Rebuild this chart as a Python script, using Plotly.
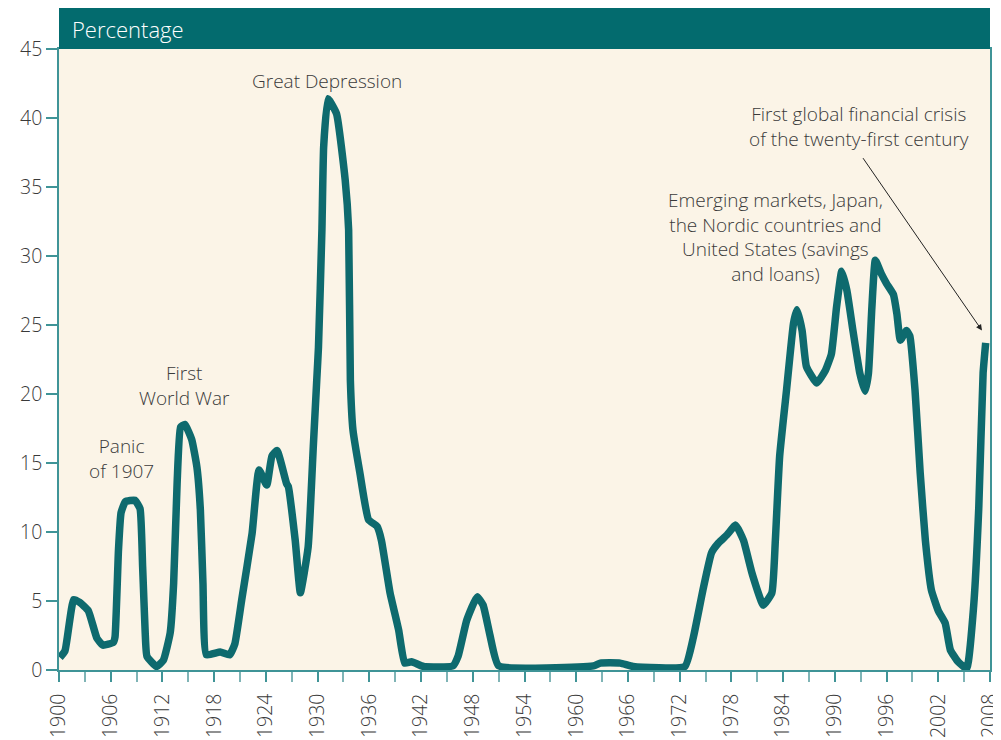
import plotly.graph_objects as go

# (year, percentage)
years = [1900.1, 1900.7, 1901.7, 1902.4, 1903.4, 1904.4, 1905.1, 1906.3, 1906.5, 1906.9,
         1907.2, 1907.7, 1908.8, 1909.4, 1909.7, 1910.0, 1910.2, 1911.3, 1912.1, 1912.9,
         1913.3, 1913.7, 1914.1, 1914.6, 1915.4, 1916.0, 1916.4, 1916.7, 1917.1, 1918.7,
         1919.8, 1920.4, 1921.2, 1922.4, 1923.2, 1924.1, 1924.7, 1925.3, 1926.4, 1926.6,
         1927.4, 1928.0, 1928.9, 1929.5, 1929.9, 1930.1, 1930.5, 1930.7, 1931.2, 1932.2,
         1933.2, 1933.6, 1933.8, 1934.1, 1934.9, 1935.9, 1936.9, 1937.4, 1938.4, 1939.4,
         1940.1, 1940.9, 1942.3, 1945.7, 1946.3, 1947.3, 1948.5, 1949.2, 1950.0, 1951.0,
         1962.0, 1962.8, 1965.1, 1966.6, 1972.6, 1973.6, 1974.7, 1975.7, 1976.5, 1977.5,
         1978.5, 1979.4, 1980.4, 1981.7, 1982.7, 1983.1, 1983.6, 1984.4, 1985.2, 1985.6,
         1986.2, 1986.7, 1987.9, 1988.9, 1989.6, 1990.2, 1990.8, 1991.4, 1992.1, 1992.9,
         1993.5, 1993.9, 1994.3, 1994.7, 1995.4, 1996.0, 1996.8, 1997.2, 1997.6, 1998.3,
         1998.7, 1999.3, 1999.9, 2000.5, 2001.2, 2002.0, 2002.8, 2003.4, 2004.3, 2005.3,
         2006.1, 2006.7, 2007.2, 2007.5]
pct = [0.9, 1.4, 5.1, 4.9, 4.3, 2.3, 1.8, 2.0, 2.4, 8.7,
       11.4, 12.2, 12.3, 11.7, 7.5, 2.7, 1.0, 0.25, 0.7, 2.7,
       6.3, 13.5, 17.6, 17.8, 16.7, 14.7, 11.6, 6.3, 1.1, 1.3,
       1.1, 1.9, 5.1, 9.9, 14.5, 13.4, 15.5, 15.9, 13.5, 13.3,
       9.4, 5.6, 8.9, 16.2, 21.0, 23.4, 31.9, 37.9, 41.4, 40.3,
       35.5, 31.9, 21.0, 17.4, 14.3, 10.9, 10.4, 9.4, 5.6, 2.9,
       0.5, 0.6, 0.25, 0.3, 1.0, 3.6, 5.3, 4.7, 2.5, 0.3,
       0.3, 0.5, 0.5, 0.25, 0.25, 2.4, 5.8, 8.5, 9.2, 9.8,
       10.5, 9.4, 7.0, 4.7, 5.6, 9.4, 15.5, 20.3, 25.1, 26.1,
       24.6, 22.0, 20.8, 21.7, 22.9, 26.3, 28.9, 27.5, 24.6, 21.5,
       20.2, 21.5, 26.3, 29.7, 28.7, 28.0, 27.2, 25.8, 23.9, 24.6,
       24.2, 20.3, 14.3, 9.4, 5.8, 4.3, 3.4, 1.45, 0.6, 0.1,
       4.6, 11.8, 21.5, 23.7]

x_ticks = list(range(1900, 2009, 6))
y_ticks = [0, 5, 10, 15, 20, 25, 30, 35, 40, 45]

TEAL = "#0E6A6E"
HEADER = "#036B6E"
AXIS = "#3F9497"
TXT = "#3a3a3a"
FONT = "Open Sans"

fig = go.Figure()
fig.add_trace(go.Scatter(x=years, y=pct, mode="lines",
                         line=dict(color=TEAL, width=7.5, shape="spline", smoothing=0.4),
                         hoverinfo="skip", showlegend=False))

fig.update_layout(
    width=993, height=732,
    margin=dict(l=51, r=11, t=41, b=70),
    paper_bgcolor="white", plot_bgcolor="#FBF4E7",
    font=dict(family=FONT, color=TXT, size=18, weight=300),
    showlegend=False,
    xaxis=dict(range=[1900, 2008], tickvals=x_ticks, ticktext=[str(v) for v in x_ticks],
               tickangle=-90, ticks="outside", ticklen=10, tickcolor=AXIS, tickwidth=1.5,
               minor=dict(dtick=3, tick0=1900, ticks="outside", ticklen=10, tickcolor="#7FB4B6", tickwidth=1.5),
               showline=True, linecolor=AXIS, linewidth=1.5, mirror=True,
               showgrid=False, zeroline=False, automargin=False, ticklabelstandoff=4,
               ticklabeloverflow="allow",
               tickfont=dict(family=FONT, size=19.5, color=TXT, weight=300)),
    yaxis=dict(range=[0, 45], tickvals=y_ticks, ticks="outside", ticklen=11,
               tickcolor=AXIS, tickwidth=1.5,
               showline=True, linecolor=AXIS, linewidth=1.5, mirror=True,
               showgrid=False, zeroline=False, automargin=False,
               ticklabeloverflow="allow",
               tickfont=dict(family=FONT, size=19.5, color=TXT, weight=300)),
)

# header bar
fig.add_shape(type="rect", xref="paper", yref="paper", x0=0, x1=1, y0=1.0, y1=1 + 41 / 621,
              fillcolor=HEADER, line=dict(width=0), layer="above")
fig.add_annotation(xref="paper", yref="paper", x=11 / 931, y=1 + 20.5 / 621, text="Percentage",
                   showarrow=False, xanchor="left", yanchor="middle",
                   font=dict(family=FONT, size=22, color="white", weight=300))

ann_font = dict(family=FONT, size=19, color=TXT, weight=300)
labels = [
    (1931.1, 42.7, "Great Depression"),
    (1914.6, 20.65, "First<br>World War"),
    (1907.2, 15.3, "Panic<br>of 1907"),
    (1983.1, 31.4, "Emerging markets, Japan,<br>the Nordic countries and<br>United States (savings<br>and loans)"),
    (1992.8, 39.4, "First global financial crisis<br>of the twenty-first century"),
]
for x, y, t in labels:
    fig.add_annotation(x=x, y=y, text=t, showarrow=False, xanchor="center", yanchor="middle",
                       align="center", font=ann_font)

fig.add_annotation(x=2007.07, y=24.6, ax=1993.15, ay=37.2, xref="x", yref="y", axref="x", ayref="y",
                   text="", showarrow=True, arrowhead=2, arrowsize=1.2, arrowwidth=1, arrowcolor="#222")

fig.write_html("out.html")
